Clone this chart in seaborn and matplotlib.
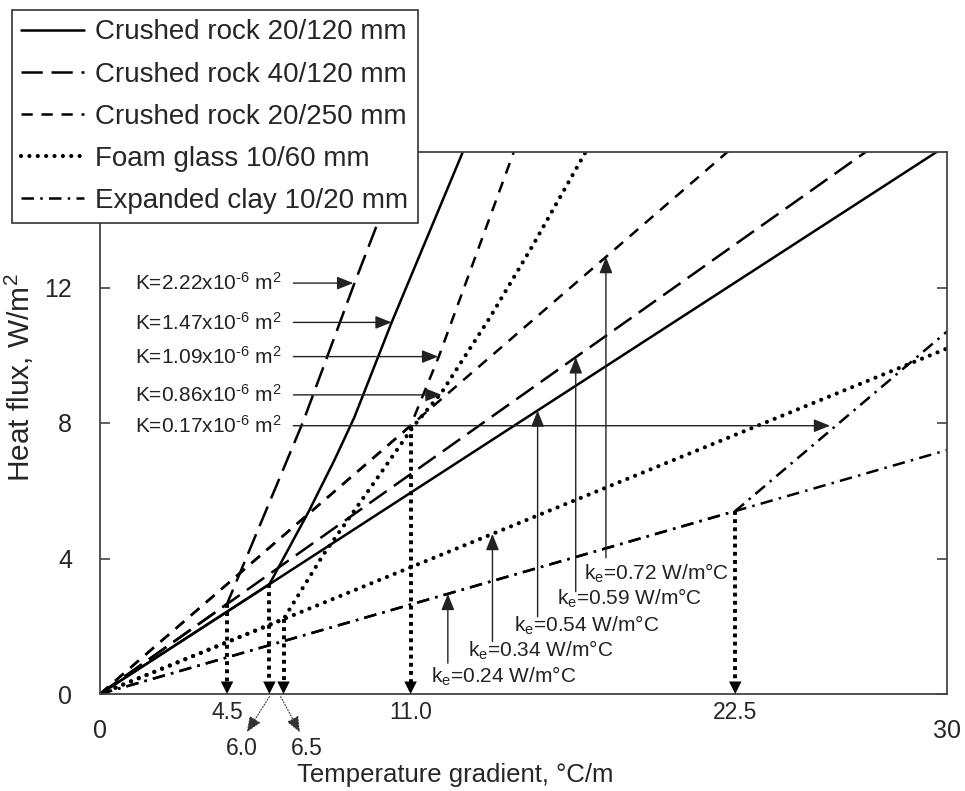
import matplotlib
matplotlib.use('Agg')
import matplotlib.pyplot as plt
from matplotlib.lines import Line2D
import seaborn as sns
import pandas as pd

# ---------------- data ----------------
materials = ['Crushed rock 20/120 mm', 'Crushed rock 40/120 mm', 'Crushed rock 20/250 mm',
             'Foam glass 10/60 mm', 'Expanded clay 10/20 mm']

# conduction (effective conductivity) lines: flux at gradient 0 and 30
cond_gradient = [0.0, 30.0]
cond_flux_rock20_120 = [0.0, 16.2]
cond_flux_rock40_120 = [0.0, 17.7]
cond_flux_rock20_250 = [0.0, 21.6]
cond_flux_foam = [0.0, 10.2]
cond_flux_clay = [0.0, 7.2]

# convective curves
conv_grad_rock20_120 = [0.0, 6.0, 7.4, 8.3, 9.0, 10.33, 12.85]
conv_flux_rock20_120 = [0.0, 3.24, 5.4, 6.9, 8.15, 10.97, 16.0]
conv_grad_rock40_120 = [0.0, 4.5, 7.2, 9.0, 10.9]
conv_flux_rock40_120 = [0.0, 2.66, 8.05, 12.1, 16.2]
conv_grad_rock20_250 = [0.0, 11.0, 12.0, 14.7]
conv_flux_rock20_250 = [0.0, 7.92, 9.96, 16.1]
conv_grad_foam = [0.0, 6.5, 7.9, 9.8, 11.1, 12.1, 13.8, 15.3, 17.2]
conv_flux_foam = [0.0, 2.21, 4.1, 6.35, 7.9, 8.9, 11.1, 13.2, 16.0]
conv_grad_clay = [0.0, 22.5, 30.0]
conv_flux_clay = [0.0, 5.4, 10.7]

# critical gradients (onset of convection)
crit_grad = [4.5, 6.0, 6.5, 11.0, 22.5]
crit_flux = [2.66, 3.24, 2.21, 7.92, 5.4]

# permeability annotations
K_labels = ['K=2.22x10$^{\u20106}$ m$^2$', 'K=1.47x10$^{\u20106}$ m$^2$',
            'K=1.09x10$^{\u20106}$ m$^2$', 'K=0.86x10$^{\u20106}$ m$^2$',
            'K=0.17x10$^{\u20106}$ m$^2$']
K_arrow_flux = [12.13, 10.97, 9.96, 8.83, 7.92]
K_arrow_end = [8.97, 10.33, 11.98, 12.1, 25.86]

# effective conductivity annotations
ke_values = [0.72, 0.59, 0.54, 0.34, 0.24]
ke_arrow_x = [17.92, 16.85, 15.5, 13.9, 12.32]
ke_arrow_tail = [4.02, 3.02, 2.28, 1.55, 0.91]
ke_text_x = [17.13, 16.17, 14.68, 13.02, 11.71]
ke_text_y = [3.57, 2.81, 2.02, 1.30, 0.51]

# ---------------- tidy frame ----------------
rows = []
def add(mat, regime, xs, ys):
    for x, y in zip(xs, ys):
        rows.append((mat, regime, x, y))

add(materials[0], 'conduction', cond_gradient, cond_flux_rock20_120)
add(materials[1], 'conduction', cond_gradient, cond_flux_rock40_120)
add(materials[2], 'conduction', cond_gradient, cond_flux_rock20_250)
add(materials[3], 'conduction', cond_gradient, cond_flux_foam)
add(materials[4], 'conduction', cond_gradient, cond_flux_clay)
add(materials[0], 'convection', conv_grad_rock20_120, conv_flux_rock20_120)
add(materials[1], 'convection', conv_grad_rock40_120, conv_flux_rock40_120)
add(materials[2], 'convection', conv_grad_rock20_250, conv_flux_rock20_250)
add(materials[3], 'convection', conv_grad_foam, conv_flux_foam)
add(materials[4], 'convection', conv_grad_clay, conv_flux_clay)
df = pd.DataFrame(rows, columns=['material', 'regime', 'gradient', 'flux'])

# ---------------- style ----------------
sns.set_theme(style='white')
FAM = ['Liberation Sans', 'DejaVu Sans']
plt.rcParams['font.family'] = FAM
plt.rcParams.update({'mathtext.fontset': 'custom', 'mathtext.rm': 'Liberation Sans',
                     'mathtext.it': 'Liberation Sans:italic', 'mathtext.default': 'regular'})

styles = {
    materials[0]: dict(ls='-', lw=1.8, cap='butt'),
    materials[1]: dict(ls=(0, (8.5, 3.5)), lw=1.8, cap='butt'),
    materials[2]: dict(ls=(0, (4.5, 3.5)), lw=1.8, cap='butt'),
    materials[3]: dict(ls=(0, (0.01, 2.0)), lw=3.0, cap='round'),
    materials[4]: dict(ls=(0, (5, 2.5, 1, 2.5)), lw=1.8, cap='butt'),
}

fig = plt.figure(figsize=(9.65, 7.91), dpi=100)
ax = fig.add_axes([100 / 965, 97 / 791, 847 / 965, 542 / 791])

for (mat, regime), sub in df.groupby(['material', 'regime'], sort=False):
    st = styles[mat]
    sns.lineplot(data=sub, x='gradient', y='flux', ax=ax, color='black', lw=st['lw'],
                 sort=False, estimator=None, legend=False)
    ln = ax.lines[-1]
    ln.set_linestyle(st['ls'])
    ln.set_dash_capstyle(st['cap'])

ax.set_xlim(0, 30)
ax.set_ylim(0, 16)

# thick dotted drop lines at critical gradients
for g, f in zip(crit_grad, crit_flux):
    ax.plot([g, g], [f, 0.3], color='black', lw=2.8, ls=(0, (1, 1.1)))
    ax.annotate('', xy=(g, 0), xytext=(g, 0.4),
                arrowprops=dict(arrowstyle='-|>,head_length=0.5,head_width=0.25',
                                mutation_scale=18, color='black', lw=0,
                                shrinkA=0, shrinkB=0))

# K arrows
for lab, fy, fx in zip(K_labels, K_arrow_flux, K_arrow_end):
    ax.annotate('', xy=(fx, fy), xytext=(6.85, fy),
                arrowprops=dict(arrowstyle='-|>,head_length=0.55,head_width=0.22',
                                mutation_scale=18, color='#222222', lw=1.0,
                                shrinkA=0, shrinkB=0))
    ax.text(6.45, fy, lab, ha='right', va='center', fontsize=15, color='#222222')

# ke arrows
for kv, ax_x, tail, tx, ty in zip(ke_values, ke_arrow_x, ke_arrow_tail, ke_text_x, ke_text_y):
    ax.annotate('', xy=(ax_x, kv * ax_x), xytext=(ax_x, tail),
                arrowprops=dict(arrowstyle='-|>,head_length=0.55,head_width=0.22',
                                mutation_scale=18, color='#222222', lw=1.0,
                                shrinkA=0, shrinkB=0))
    ax.text(tx, ty, 'k$_e$=%.2f W/m°C' % kv, ha='left', va='center', fontsize=15,
            color='#222222')

# small diagonal arrows to 6.0 and 6.5 labels
for (x0, x1, lx, lab) in [(6.0, 5.2, 5.02, '6.0'), (6.4, 7.08, 7.32, '6.5')]:
    ax.annotate('', xy=(x1, -1.13), xytext=(x0, -0.08), annotation_clip=False,
                arrowprops=dict(arrowstyle='-|>,head_length=0.6,head_width=0.25',
                                mutation_scale=16, color='#333333', lw=0.8, ls=':',
                                shrinkA=0, shrinkB=0))
    ax.text(lx, -1.62, lab, ha='center', va='center', fontsize=16.5, clip_on=False,
            family=FAM)

# ticks
ax.set_xticks([0, 30])
ax.set_xticklabels(['0', '30'])
ax.set_xticks([4.5, 11.0, 22.5], minor=True)
ax.set_xticklabels(['4.5', '11.0', '22.5'], minor=True)
ax.set_yticks([0, 4, 8, 12])
ax.set_yticklabels(['0', '4', '8', '12'])
ax.tick_params(axis='x', which='major', length=0, pad=18, labelsize=18)
ax.tick_params(axis='x', which='minor', length=0, pad=5, labelsize=16.5)
ax.tick_params(axis='y', which='major', direction='in', length=7, width=1.2,
               left=True, right=True, pad=20, labelsize=18, color='#444444')
for t in ax.get_xticklabels(which='both') + ax.get_yticklabels():
    t.set_family(FAM)

for sp in ax.spines.values():
    sp.set_visible(True)
    sp.set_color('#444444')
    sp.set_linewidth(1.3)

ax.set_xlabel('Temperature gradient, °C/m', fontsize=18.5)
ax.set_ylabel('Heat flux, W/m$^2$', fontsize=21.5)
ax.xaxis.set_label_coords(0.42, -0.128)
ax.yaxis.set_label_coords(-0.075, 0.583)

# legend
handles = [Line2D([], [], color='black', lw=styles[m]['lw'], ls=styles[m]['ls'],
                  dash_capstyle=styles[m]['cap']) for m in materials]
leg = fig.legend(handles, materials, loc='upper left', bbox_to_anchor=(12 / 965, 1 - 10 / 791),
                 bbox_transform=fig.transFigure, borderaxespad=0, fontsize=20.0,
                 handlelength=2.25, handletextpad=0.4, labelspacing=0.58, borderpad=0.34,
                 frameon=True, fancybox=False, framealpha=1, edgecolor='#333333')
leg.get_frame().set_linewidth(1.2)

fig.savefig('out.png', dpi=100)
